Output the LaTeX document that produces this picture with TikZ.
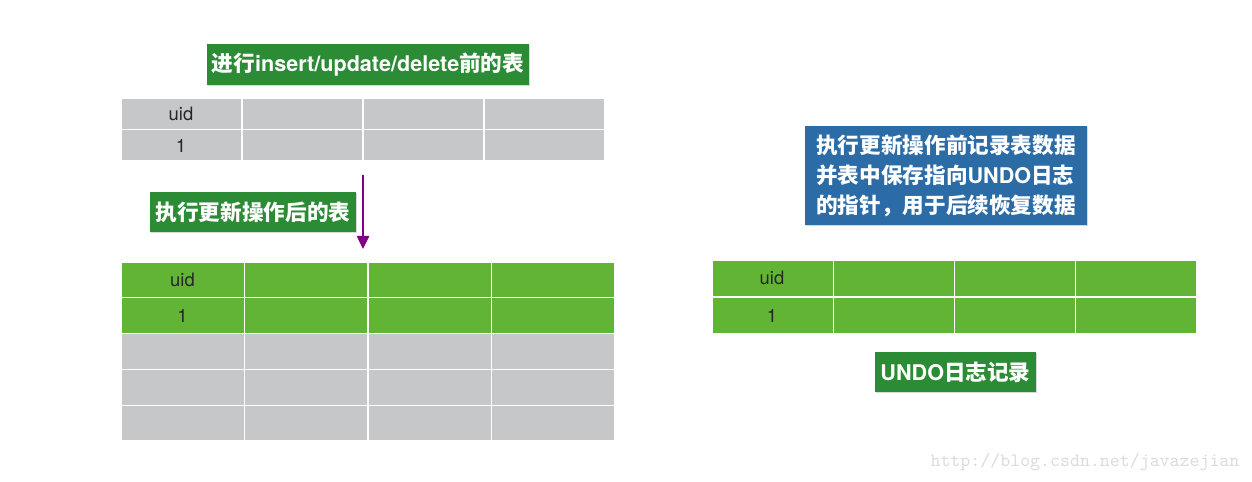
\documentclass[tikz,border=0pt]{standalone}
\usepackage{fontspec}
\setmainfont{TeX Gyre Heros}
\newfontfamily\cjk{Noto Sans CJK SC}
\newcommand{\zh}[1]{{\cjk #1}}
\usetikzlibrary{arrows.meta, positioning, shadows}
\definecolor{cellgray}{RGB}{198,199,201}
\definecolor{cellgreen}{RGB}{98,181,52}
\definecolor{tagGreen}{RGB}{44,139,53}
\definecolor{tagBlue}{RGB}{43,107,166}
\definecolor{arrPurple}{RGB}{128,0,128}

\begin{document}
\begin{tikzpicture}[x=0.02cm, y=-0.02cm,
	tag/.style={fill=tagGreen, text=white, font=\bfseries\fontsize{12.3}{17}\selectfont, inner sep=0pt, align=center,
		drop shadow={opacity=0.3, shadow xshift=0.8pt, shadow yshift=-0.8pt}},
	note/.style={tag, fill=tagBlue, align=left},
	cell/.style={draw=white, line width=0.6pt},
	celltxt/.style={font=\fontsize{10.5}{12}\selectfont, text=black!85},
	arr/.style={-{Triangle[width=7pt, length=7.5pt]}, line width=1.2pt, arrPurple}]
	\useasboundingbox (0,0) rectangle (1252,481);
	% table before the update
	\node[tag, minimum width=6.44cm, minimum height=0.82cm] (beforeTag) at (368,64.5) {\zh{进行}insert/update/delete\zh{前的表}};
	\foreach \c in {0,...,3}
		\foreach \r in {0,1}
			\draw[cell, fill=cellgray] (121+121*\c,98+31.5*\r) rectangle ++(121,31.5);
	\node[celltxt] (beforeUid) at (181,114) {uid};
	\node[celltxt] (beforeOne) at (181,146) {1};
	% table after the update
	\coordinate (arrTop) at (363,175);
	\coordinate (arrTip) at (363,249);
	\draw[arr] (arrTop) -- (arrTip);
	\node[tag, minimum width=4.12cm, minimum height=0.8cm] (afterTag) at (253,212) {\zh{执行更新操作后的表}};
	\foreach \c in {0,...,3} {
		\foreach \r in {0,1}
			\draw[cell, fill=cellgreen] (121+123.5*\c,262+35.8*\r) rectangle ++(123.5,35.8);
		\foreach \r in {2,3,4}
			\draw[cell, fill=cellgray] (121+123.5*\c,262+35.8*\r) rectangle ++(123.5,35.8);
	}
	\node[celltxt] (afterUid) at (182.5,280) {uid};
	\node[celltxt] (afterOne) at (182.5,316) {1};
	% undo log
	\node[note, minimum width=5.64cm, minimum height=1.98cm] (undoNote) at (946,175.5)
		{\zh{执行更新操作前记录表数据}\\\zh{并表中保存指向}UNDO\zh{日志}\\\zh{的指针，用于后续恢复数据}};
	\foreach \c in {0,...,3}
		\foreach \r in {0,1}
			\draw[cell, fill=cellgreen] (712+121.25*\c,260+37*\r) rectangle ++(121.25,37);
	\node[celltxt] (undoUid) at (772,278) {uid};
	\node[celltxt] (undoOne) at (772,316) {1};
	\node[tag, minimum width=3.22cm, minimum height=0.8cm] (undoTag) at (955.5,372) {UNDO\zh{日志记录}};
	\node[font=\ttfamily\fontsize{10.8}{12}\selectfont, text=black!14] (mark) at (1085,462) {http://blog.csdn.net/javazejian};
\end{tikzpicture}
\end{document}
